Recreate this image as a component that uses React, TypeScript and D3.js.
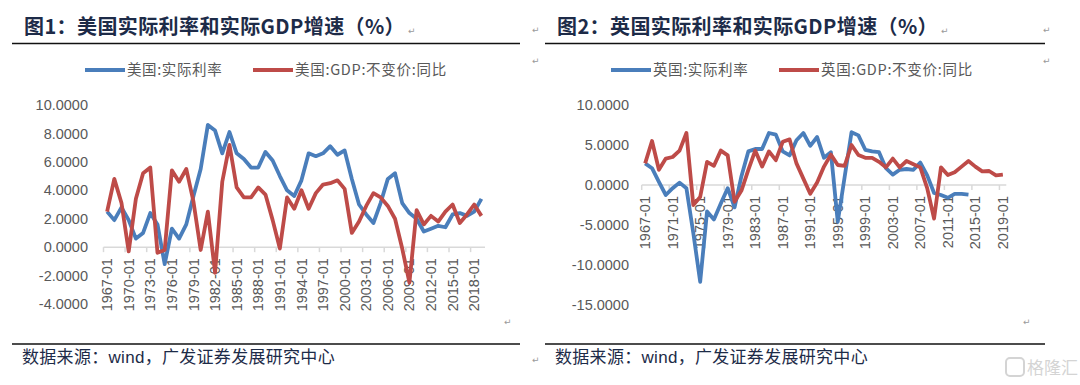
import * as d3 from 'd3'

// categories: one point per year
const years = [
  1967, 1968, 1969, 1970, 1971, 1972, 1973, 1974, 1975, 1976, 1977, 1978, 1979,
  1980, 1981, 1982, 1983, 1984, 1985, 1986, 1987, 1988, 1989, 1990, 1991, 1992,
  1993, 1994, 1995, 1996, 1997, 1998, 1999, 2000, 2001, 2002, 2003, 2004, 2005,
  2006, 2007, 2008, 2009, 2010, 2011, 2012, 2013, 2014, 2015, 2016, 2017, 2018,
  2019,
]

const usRealRate = [
  2.5, 1.9, 2.8, 1.9, 0.6, 1.0, 2.4, 1.6, -1.2, 1.3, 0.6, 1.6, 3.6, 5.5, 8.6,
  8.2, 6.6, 8.1, 6.6, 6.2, 5.6, 5.6, 6.7, 6.1, 5.0, 4.0, 3.6, 4.7, 6.6, 6.4, 6.6,
  7.1, 6.5, 6.8, 4.8, 3.0, 2.3, 1.7, 3.1, 4.8, 5.2, 3.1, 2.4, 2.0, 1.1, 1.3, 1.5,
  1.4, 2.3, 2.4, 2.2, 2.5, 3.4,
]

const usGdpGrowth = [
  2.5, 4.8, 3.1, -0.3, 3.4, 5.2, 5.6, -0.4, -0.2, 5.4, 4.6, 5.5, 3.2, -0.2, 2.5,
  -1.8, 4.6, 7.2, 4.2, 3.5, 3.5, 4.2, 3.7, 1.9, -0.1, 3.5, 2.7, 4.0, 2.7, 3.8,
  4.4, 4.5, 4.7, 4.1, 1.0, 1.8, 2.9, 3.8, 3.5, 2.9, 2.0, -0.1, -2.5, 2.6, 1.6,
  2.2, 1.8, 2.5, 3.0, 1.7, 2.3, 3.0, 2.2,
]

const ukRealRate: (number | null)[] = [
  2.7, 2.1, 0.4, -1.25, -0.4, 0.3, -0.4, -6.0, -12.1, -3.3, -4.3, -2.3, -0.4,
  -2.8, 1.1, 4.2, 4.5, 4.5, 6.5, 6.3, 4.2, 3.7, 5.6, 6.5, 4.9, 6.0, 3.4, 4.1,
  -4.6, 1.0, 6.6, 6.2, 4.4, 4.2, 4.1, 2.1, 1.3, 1.9, 2.0, 1.9, 2.8, 1.2, -1.0,
  -1.25, -1.6, -1.1, -1.1, -1.2, null, null, null, null, null,
]

const ukGdpGrowth = [
  2.7, 5.5, 1.9, 3.3, 3.5, 4.3, 6.5, -2.5, -1.5, 2.9, 2.4, 4.3, 3.7, -2.1, -0.7,
  1.9, 4.3, 2.3, 4.2, 3.1, 5.4, 5.7, 2.7, 0.8, -1.1, 0.3, 2.3, 3.8, 2.5, 2.4,
  5.0, 3.75, 3.4, 3.4, 2.9, 2.2, 3.3, 2.2, 3.0, 2.6, 2.2, -0.4, -4.2, 2.2, 1.25,
  1.6, 2.3, 3.0, 2.3, 1.7, 1.75, 1.2, 1.3,
]

const usYTicks = [10, 8, 6, 4, 2, 0, -2, -4]
const ukYTicks = [10, 5, 0, -5, -10, -15]

const usXTicks = [
  1967, 1970, 1973, 1976, 1979, 1982, 1985, 1988, 1991, 1994, 1997, 2000, 2003,
  2006, 2009, 2012, 2015, 2018,
]
const ukXTicks = [
  1967, 1971, 1975, 1979, 1983, 1987, 1991, 1995, 1999, 2003, 2007, 2011, 2015,
  2019,
]

const BLUE = '#4a7ebb'
const RED = '#be4b48'
const AXIS_TEXT = '#595959'
const NAVY = '#1d2b48'
const CJK = '"Noto Sans CJK SC", "Noto Sans", sans-serif'
const LATIN = '"Liberation Sans", Arial, sans-serif'

const fmt = d3
  .formatLocale({
    decimal: '.',
    thousands: ',',
    grouping: [3],
    currency: ['', ''],
    minus: '-',
  })
  .format('.4f')

interface PanelProps {
  ox: number
  ruleEnd: number
  title: string
  rateLabel: string
  gdpLabel: string
  rate: (number | null)[]
  gdp: number[]
  yTicks: number[]
  xTicks: number[]
  xRange: [number, number]
  yDomain: [number, number]
  yRange: [number, number]
  yLabelRight: number
  swatchA: number
  swatchB: number
}

function Panel(p: PanelProps) {
  const x = d3
    .scaleBand<number>()
    .domain(years)
    .range(p.xRange)
    .paddingInner(0)
    .paddingOuter(0)
  const y = d3.scaleLinear().domain(p.yDomain).range(p.yRange)
  const cx = (yr: number) => (x(yr) ?? 0) + x.bandwidth() / 2
  const y0 = y(0)

  const line = d3
    .line<number | null>()
    .defined((d) => d != null)
    .x((_, i) => cx(years[i]))
    .y((d) => y(d as number))

  const ox = p.ox

  return (
    <g>
      <text
        x={ox + 24}
        y={34}
        fontFamily={CJK}
        fontWeight={700}
        fontSize={20}
        letterSpacing={0.4}
        fill={NAVY}
      >
        {p.title}
      </text>
      <line
        x1={ox + 12}
        x2={p.ruleEnd}
        y1={43.5}
        y2={43.5}
        stroke="#111"
        strokeWidth={1.3}
      />

      {/* legend */}
      <line
        x1={p.swatchA}
        x2={p.swatchA + 40}
        y1={70}
        y2={70}
        stroke={BLUE}
        strokeWidth={4}
      />
      <text
        x={p.swatchA + 42}
        y={75}
        fontFamily={CJK}
        fontSize={14.5}
        letterSpacing={0.6}
        fill={AXIS_TEXT}
      >
        {p.rateLabel}
      </text>
      <line
        x1={p.swatchB}
        x2={p.swatchB + 40}
        y1={70}
        y2={70}
        stroke={RED}
        strokeWidth={4}
      />
      <text
        x={p.swatchB + 42}
        y={75}
        fontFamily={CJK}
        fontSize={14.5}
        letterSpacing={0.7}
        fill={AXIS_TEXT}
      >
        {p.gdpLabel}
      </text>

      {/* y axis labels */}
      {p.yTicks.map((t) => (
        <text
          key={t}
          x={p.yLabelRight}
          y={y(t)}
          dy="0.35em"
          textAnchor="end"
          fontFamily={LATIN}
          fontSize={14.5}
          fill={AXIS_TEXT}
        >
          {fmt(t)}
        </text>
      ))}

      {/* category axis */}
      <line
        x1={p.xRange[0]}
        x2={p.xRange[1]}
        y1={y0}
        y2={y0}
        stroke="#d9d9d9"
        strokeWidth={1.5}
      />
      {p.xTicks.map((yr) => (
        <line
          key={yr}
          x1={x(yr)}
          x2={x(yr)}
          y1={y0}
          y2={y0 + 5}
          stroke="#d9d9d9"
          strokeWidth={1.5}
        />
      ))}
      {p.xTicks.map((yr) => (
        <text
          key={yr}
          transform={`translate(${cx(yr)},${y0 + 11}) rotate(-90)`}
          dy="0.35em"
          textAnchor="end"
          fontFamily={LATIN}
          fontSize={14.5}
          fill={AXIS_TEXT}
        >
          {`${yr}-01`}
        </text>
      ))}

      {/* series */}
      <path
        d={line(p.rate) ?? ''}
        fill="none"
        stroke={BLUE}
        strokeWidth={3.8}
        strokeLinejoin="round"
      />
      <path
        d={line(p.gdp) ?? ''}
        fill="none"
        stroke={RED}
        strokeWidth={3.8}
        strokeLinejoin="round"
      />

      <line
        x1={ox + 12}
        x2={p.ruleEnd}
        y1={344}
        y2={344}
        stroke="#111"
        strokeWidth={1.3}
      />
      <text
        x={ox + 22}
        y={363}
        fontFamily={CJK}
        fontSize={17}
        letterSpacing={0.3}
        fill={NAVY}
      >
        数据来源：
        <tspan fontFamily={LATIN}>wind</tspan>
        ，广发证券发展研究中心
      </text>
    </g>
  )
}

export default function App() {
  return (
    <svg
      width={1080}
      height={385}
      viewBox="0 0 1080 385"
      style={{ position: 'absolute', left: 0, top: 0, background: '#fff' }}
    >
      <rect width={1080} height={385} fill="#fff" />
      <Panel
        ox={0}
        ruleEnd={520}
        title="图1：美国实际利率和实际GDP增速（%）"
        rateLabel="美国:实际利率"
        gdpLabel="美国:GDP:不变价:同比"
        rate={usRealRate}
        gdp={usGdpGrowth}
        yTicks={usYTicks}
        xTicks={usXTicks}
        xRange={[103.5, 485]}
        yDomain={[-4, 10]}
        yRange={[304, 105]}
        yLabelRight={88}
        swatchA={85}
        swatchB={253}
      />
      <Panel
        ox={533}
        ruleEnd={1045}
        title="图2：英国实际利率和实际GDP增速（%）"
        rateLabel="英国:实际利率"
        gdpLabel="英国:GDP:不变价:同比"
        rate={ukRealRate}
        gdp={ukGdpGrowth}
        yTicks={ukYTicks}
        xTicks={ukXTicks}
        xRange={[641.7, 1006.3]}
        yDomain={[-15, 10]}
        yRange={[305, 105]}
        yLabelRight={629}
        swatchA={611}
        swatchB={779}
      />
      {/* paragraph marks */}
      {[
        [408, 34],
        [532, 33],
        [532, 64],
        [504, 325],
        [532, 363],
        [941, 34],
        [1043, 33],
        [1043, 64],
        [1023, 325],
      ].map(([px, py], i) => (
        <text key={i} x={px} y={py} fontSize={9} fill="#9a9a9a" fontFamily="DejaVu Sans">
          ↵
        </text>
      ))}
      <g fill="none" stroke="#d4d4d4" strokeWidth={2}>
        <rect x={1006} y={358} width={18} height={18} rx={4} />
      </g>
      <text x={1027} y={374} fontFamily={CJK} fontSize={17} fill="#d4d4d4">
        格隆汇
      </text>
    </svg>
  )
}
